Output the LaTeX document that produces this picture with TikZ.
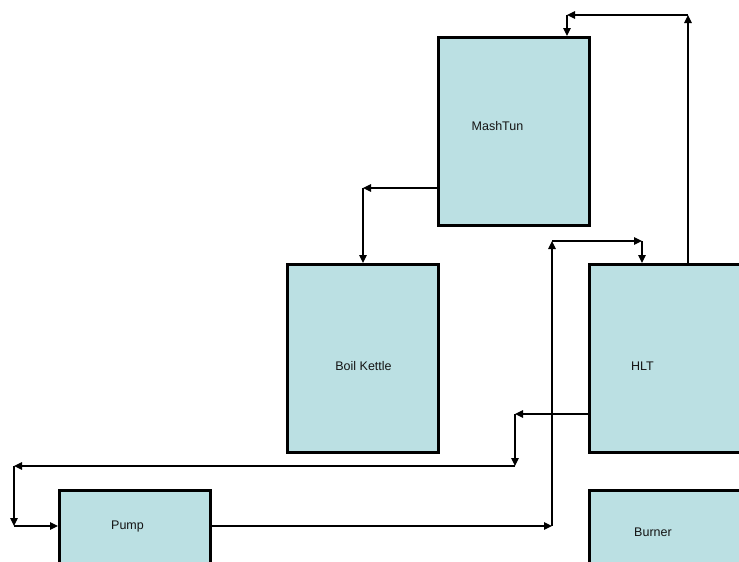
\documentclass[tikz,border=0pt]{standalone}
\usepackage{fontspec}
\setmainfont{Liberation Sans}
\usetikzlibrary{arrows.meta}
\definecolor{boxfill}{RGB}{187,224,227}
\definecolor{txt}{RGB}{20,20,20}
\tikzset{
  tank/.style={draw=black, fill=boxfill, line width=3pt, minimum width=151pt, minimum height=188pt, inner sep=0pt},
  lbl/.style={inner sep=0pt, text=txt, font=\fontsize{12.5}{14}\selectfont},
  conn/.style={draw=black, line width=1.2pt, -{Triangle[length=8pt,width=7.5pt]}}
}
\begin{document}
\begin{tikzpicture}[x=1pt,y=-1pt]
\useasboundingbox (0,0) rectangle (739,562);
\clip (0,0) rectangle (739,562);
% tanks
\node[tank] (mash)   at (514,131.5) {};
\node[tank] (boil)   at (363,358.5) {};
\node[tank] (hlt)    at (665,358.5) {};
\node[tank] (pump)   at (135,584.5) {};
\node[tank] (burner) at (665,584.5) {};
% labels
\node[lbl] (tmash)   at (497.5,126.5) {MashTun};
\node[lbl] (tboil)   at (363.5,366.5) {Boil Kettle};
\node[lbl] (thlt)    at (642.5,366.5) {HLT};
\node[lbl] (tpump)   at (127.5,526.5) {Pump};
\node[lbl] (tburner) at (653,532.5) {Burner};
% joints
\coordinate (j1) at (688,15);
\coordinate (j2) at (567,15);
\coordinate (k1) at (363,188);
\coordinate (p1) at (552,526);
\coordinate (p2) at (552,241);
\coordinate (p3) at (642,241);
\coordinate (q1) at (515,414);
\coordinate (q2) at (515,466);
\coordinate (q3) at (14,466);
\coordinate (q4) at (14,526);
% HLT -> MashTun
\draw[conn] (hlt.north -| j1) -- (j1);
\draw[conn] (j1) -- (j2);
\draw[conn] (j2) -- (j2 |- mash.north);
% MashTun -> Boil Kettle
\draw[conn] (mash.west |- k1) -- (k1);
\draw[conn] (k1) -- (k1 |- boil.north);
% Pump -> HLT
\draw[conn] (pump.east |- p1) -- (p1);
\draw[conn] (p1) -- (p2);
\draw[conn] (p2) -- (p3);
\draw[conn] (p3) -- (p3 |- hlt.north);
% HLT -> Pump
\draw[conn] (hlt.west |- q1) -- (q1);
\draw[conn] (q1) -- (q2);
\draw[conn] (q2) -- (q3);
\draw[conn] (q3) -- (q4);
\draw[conn] (q4) -- (q4 -| pump.west);
\end{tikzpicture}
\end{document}
